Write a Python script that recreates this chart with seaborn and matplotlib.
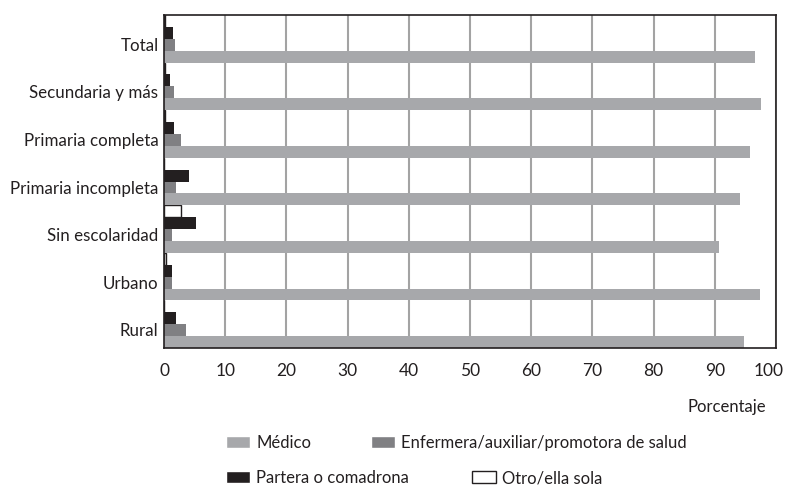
import pandas as pd
import matplotlib.pyplot as plt
import matplotlib.transforms as mtransforms
import seaborn as sns
from matplotlib.patches import Patch

categorias = ["Total", "Secundaria y más", "Primaria completa", "Primaria incompleta",
              "Sin escolaridad", "Urbano", "Rural"]
medico = [96.6, 97.6, 95.8, 94.1, 90.7, 97.4, 94.8]
enfermera = [1.8, 1.7, 2.8, 2.0, 1.3, 1.3, 3.6]
partera = [1.4, 0.9, 1.7, 4.0, 5.3, 1.3, 1.9]
otro = [0.2, 0.2, 0.1, 0.05, 2.7, 0.3, 0.05]

series = ["Otro/ella sola", "Partera o comadrona",
          "Enfermera/auxiliar/promotora de salud", "Médico"]
valores = [otro, partera, enfermera, medico]
colores = ["#ffffff", "#231f20", "#808083", "#a7a8ab"]

filas = []
for s, vals in zip(series, valores):
    for c, v in zip(categorias, vals):
        filas.append({"cat": c, "serie": s, "valor": v})
df = pd.DataFrame(filas)

sns.set_style("white")
plt.rcParams["font.family"] = ["Lato", "DejaVu Sans"]

fig = plt.figure(figsize=(7.86, 4.87), dpi=100)
ax = fig.add_axes([0.2087, 0.2854, 0.7786, 0.6838])

sns.barplot(data=df, y="cat", x="valor", hue="serie", order=categorias,
            hue_order=series, palette=colores, orient="h", width=1.0,
            linewidth=0, saturation=1, legend=False, ax=ax)

# barras "Otro" con borde negro
for p in ax.containers[0]:
    p.set_edgecolor("#231f20")
    p.set_linewidth(1.0)

ax.set_xlim(0, 100)
ax.set_xticks(range(0, 101, 10))
ax.grid(axis="x", color="#a3a3a3", lw=1.5)
ax.set_axisbelow(True)
for sp in ax.spines.values():
    sp.set_visible(True)
    sp.set_color("#231f20")
    sp.set_linewidth(1.2)
ax.tick_params(axis="x", length=0, pad=11, labelsize=12.5, colors="#231f20")
ax.tick_params(axis="y", length=0, pad=4, labelsize=12.2, colors="#231f20")
ax.set_ylabel("")
ax.set_xlabel("")

# etiquetas de categorias un poco mas abajo
off_y = mtransforms.ScaledTranslation(0, -5.5 / 100, fig.dpi_scale_trans)
for lbl in ax.get_yticklabels():
    lbl.set_transform(lbl.get_transform() + off_y)
off_x = mtransforms.ScaledTranslation(-7 / 100, 0, fig.dpi_scale_trans)
last = ax.get_xticklabels()[-1]
last.set_transform(last.get_transform() + off_x)

fig.text(0.9243, 0.1643, "Porcentaje", ha="center", va="center", fontsize=12, color="#231f20")

# leyenda: cada elemento en su sitio
kw = dict(frameon=False, fontsize=12, handlelength=1.44, handleheight=0.72,
          handletextpad=0.36, borderaxespad=0, borderpad=0, labelcolor="#231f20",
          loc="center left")
items = [
    (Patch(facecolor=colores[3], label=series[3]), 226, 443),
    (Patch(facecolor=colores[2], label=series[2]), 371, 443),
    (Patch(facecolor=colores[1], label=series[1]), 226, 478),
    (Patch(facecolor="white", edgecolor="#231f20", lw=1, label=series[0]), 472, 478),
]
for h, px, py in items:
    fig.legend(handles=[h], bbox_to_anchor=(px / 786, 1 - py / 487), **kw)

fig.savefig("out.png", dpi=100)
